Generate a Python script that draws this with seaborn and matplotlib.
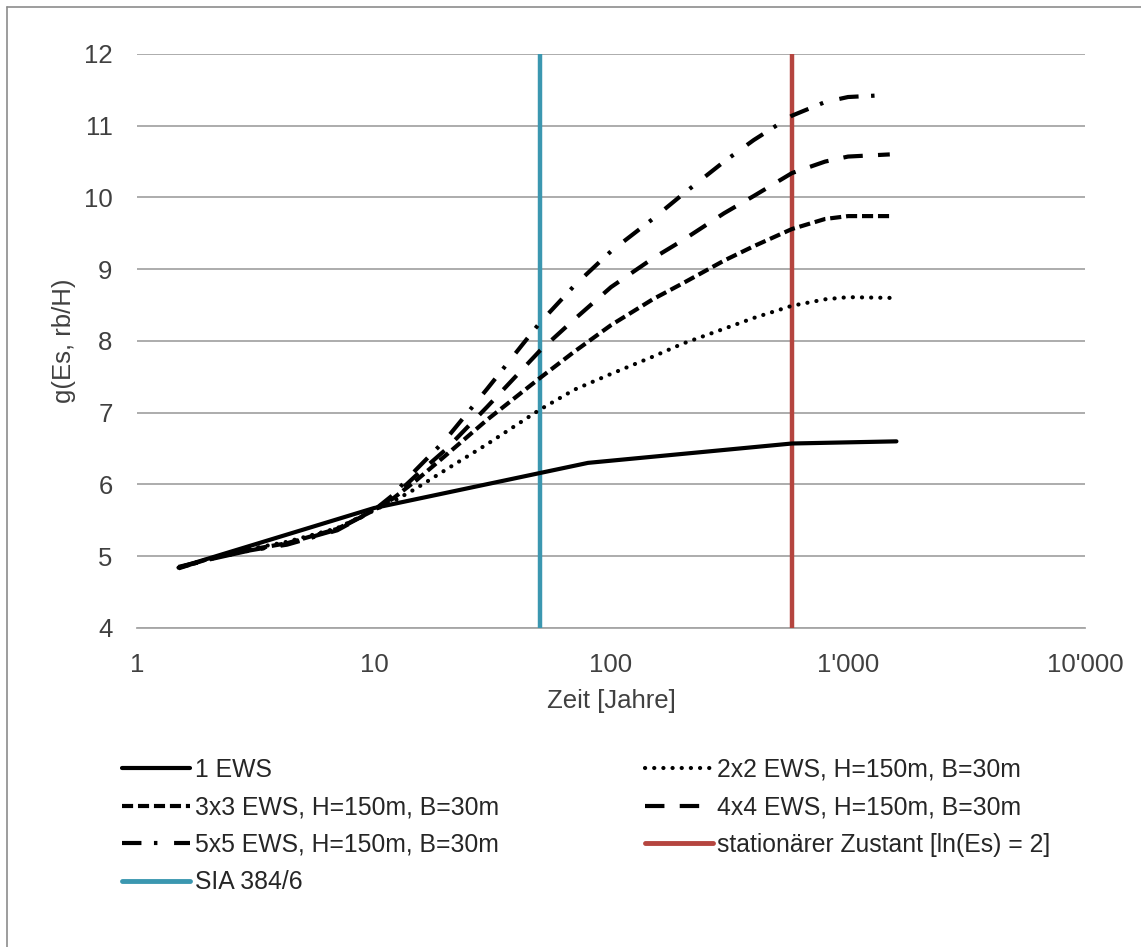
import numpy as np
import pandas as pd
import matplotlib
matplotlib.use("Agg")
import matplotlib.pyplot as plt
from matplotlib.lines import Line2D
from matplotlib.ticker import FixedLocator, FuncFormatter, LogLocator, NullFormatter
import seaborn as sns

# Daten
zeit = [1.5, 2, 3, 4.3, 7, 10, 12, 15, 20, 30, 50, 70, 100, 150, 200, 300, 400, 580, 800, 1000, 1500]
g_2x2 = [4.84, 4.96, 5.10, 5.20, 5.39, 5.64, 5.76, 5.94, 6.20, 6.56, 7.04, 7.32, 7.54, 7.78, 7.96, 8.17, 8.32, 8.49, 8.58, 8.61, 8.60]
g_3x3 = [4.83, 4.96, 5.09, 5.18, 5.38, 5.64, 5.80, 6.05, 6.40, 6.90, 7.48, 7.85, 8.22, 8.58, 8.80, 9.12, 9.32, 9.56, 9.70, 9.74, 9.74]
g_4x4 = [4.84, 4.95, 5.08, 5.17, 5.37, 5.64, 5.82, 6.12, 6.48, 7.08, 7.86, 8.30, 8.75, 9.15, 9.40, 9.78, 10.02, 10.34, 10.50, 10.57, 10.60]
g_5x5 = [4.85, 4.95, 5.08, 5.16, 5.36, 5.64, 5.85, 6.20, 6.62, 7.33, 8.25, 8.77, 9.25, 9.70, 10.04, 10.50, 10.80, 11.14, 11.33, 11.40, 11.43]

zeit_1ews = [1.5, 10, 80, 580, 1600]
g_1ews = [4.84, 5.67, 6.30, 6.57, 6.60]

sia_jahre = 50
stationaer_jahre = 580

labels = {
    "1ews": "1 EWS",
    "2x2": "2x2 EWS, H=150m, B=30m",
    "3x3": "3x3 EWS, H=150m, B=30m",
    "4x4": "4x4 EWS, H=150m, B=30m",
    "5x5": "5x5 EWS, H=150m, B=30m",
    "stat": "stationärer Zustant [ln(Es) = 2]",
    "sia": "SIA 384/6",
}

sns.set_style("white")
plt.rcParams["font.family"] = ["Liberation Sans", "DejaVu Sans"]
plt.rcParams["lines.scale_dashes"] = False

fig = plt.figure(figsize=(11.41, 9.47), dpi=100)
ax = fig.add_axes([0.120, 0.337, 0.831, 0.606])

schwarz = "black"
blau = "#3b97b0"
rot = "#b5453f"
grau_text = "#404040"
lw = 3.0
fs_tick = 18.5
fs_leg = 17.8

styles = {
    "2x2": dict(linestyle=(0, (0.1, 6.5)), dash_capstyle="round"),
    "3x3": dict(linestyle=(0, (8, 3.5)), dash_capstyle="butt"),
    "4x4": dict(linestyle=(0, (14, 11)), dash_capstyle="butt"),
    "5x5": dict(linestyle=(0, (14, 9, 2.5, 12)), dash_capstyle="butt"),
}

sns.lineplot(x=zeit_1ews, y=g_1ews, ax=ax, color=schwarz, linewidth=lw, zorder=5)
for key, werte in [("2x2", g_2x2), ("3x3", g_3x3), ("4x4", g_4x4), ("5x5", g_5x5)]:
    sns.lineplot(x=zeit, y=werte, ax=ax, color=schwarz, linewidth=lw, zorder=5, **styles[key])

ax.axvline(sia_jahre, color=blau, linewidth=3.2, zorder=4)
ax.axvline(stationaer_jahre, color=rot, linewidth=3.2, zorder=4)

ax.set_xscale("log")
ax.set_xlim(1, 10000)
ax.set_ylim(4, 12)
ax.set_yticks(range(4, 13))
ax.xaxis.set_major_locator(FixedLocator([1, 10, 100, 1000, 10000]))
ax.xaxis.set_minor_locator(LogLocator(base=10, subs=np.arange(2, 10)))
ax.xaxis.set_minor_formatter(NullFormatter())
ax.xaxis.set_major_formatter(FuncFormatter(lambda v, p: f"{int(round(v)):,}".replace(",", "'")))

ax.grid(axis="y", color="#a6a6a6", linewidth=1.3)
ax.grid(axis="x", visible=False)
for s in ["left", "right", "top"]:
    ax.spines[s].set_visible(False)
ax.spines["bottom"].set_color("#a6a6a6")
ax.spines["bottom"].set_linewidth(1.3)

ax.tick_params(axis="x", which="major", direction="out", length=10, width=1.2, color="#a6a6a6",
               labelsize=fs_tick, labelcolor=grau_text, pad=8)
ax.tick_params(axis="x", which="minor", direction="out", length=6, width=1.0, color="#a6a6a6")
ax.tick_params(axis="y", length=0, labelsize=fs_tick, labelcolor=grau_text, pad=17.5)

ax.set_xlabel("Zeit [Jahre]", fontsize=fs_tick, color=grau_text, labelpad=9)
ax.set_ylabel("g(Es, rb/H)", fontsize=fs_tick, color=grau_text, labelpad=6)

h = {
    "1ews": Line2D([], [], color=schwarz, linewidth=lw),
    "2x2": Line2D([], [], color=schwarz, linewidth=lw, **styles["2x2"]),
    "3x3": Line2D([], [], color=schwarz, linewidth=lw, **styles["3x3"]),
    "4x4": Line2D([], [], color=schwarz, linewidth=lw, **styles["4x4"]),
    "5x5": Line2D([], [], color=schwarz, linewidth=lw, **styles["5x5"]),
    "stat": Line2D([], [], color=rot, linewidth=lw + 0.5),
    "sia": Line2D([], [], color=blau, linewidth=lw + 0.5),
}
leg_opts = dict(loc="upper left", frameon=False, fontsize=fs_leg, handlelength=2.75,
                handletextpad=0.18, labelspacing=0.55, labelcolor="#262626",
                borderpad=0, borderaxespad=0)
links = ["1ews", "3x3", "5x5", "sia"]
rechts = ["2x2", "4x4", "stat"]
fig.legend([h[k] for k in links], [labels[k] for k in links],
           bbox_to_anchor=(0.107, 0.200), **leg_opts)
fig.legend([h[k] for k in rechts], [labels[k] for k in rechts],
           bbox_to_anchor=(0.565, 0.200), **leg_opts)

# Rahmen oben und links
fig.add_artist(Line2D([0.006, 1.0], [0.993, 0.993], transform=fig.transFigure, color="#8c8c8c", linewidth=1.2))
fig.add_artist(Line2D([0.006, 0.006], [0.0, 0.993], transform=fig.transFigure, color="#8c8c8c", linewidth=1.2))

fig.savefig("out.png", dpi=100)
